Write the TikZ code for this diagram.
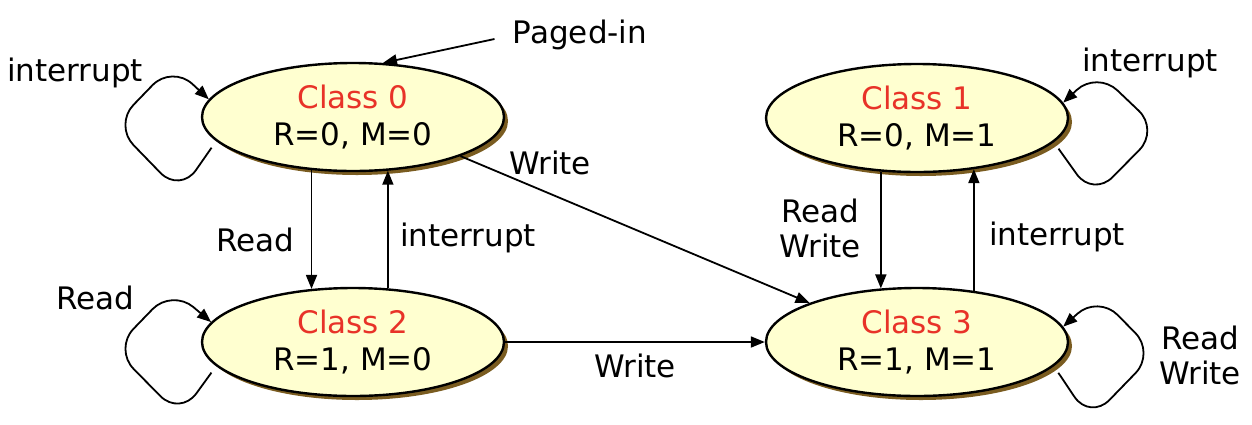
\documentclass[tikz,border=0pt]{standalone}
\usepackage{fontspec}
\setmainfont{DejaVu Sans}
\usetikzlibrary{shapes.geometric,shadows,arrows.meta}

\definecolor{classfill}{RGB}{255,255,208}
\definecolor{classshade}{RGB}{122,92,32}
\definecolor{classred}{RGB}{232,50,40}

\tikzset{
  state/.style={ellipse, draw, line width=1.2pt, fill=classfill,
    minimum width=151pt, minimum height=54pt, inner sep=0pt, align=center,
    drop shadow={shadow xshift=2pt, shadow yshift=-2pt, fill=classshade, opacity=1}},
  trans/.style={-{Triangle[length=7pt,width=5.5pt]}, line width=0.9pt},
  selfloop/.style={trans, rounded corners=14pt, shorten <=4pt},
  lbl/.style={align=center, inner sep=0pt}
}

\begin{document}
\begin{tikzpicture}[x=0.5pt, y=-0.5pt, font=\fontsize{15.5}{17.5}\selectfont]
      \useasboundingbox (0,0) rectangle (1252,424);
      \node[state] (c0) at (353,117) {\textcolor{classred}{Class 0}\\[1pt]R=0, M=0};
      \node[state] (c1) at (917,118) {\textcolor{classred}{Class 1}\\[1pt]R=0, M=1};
      \node[state] (c2) at (353,342) {\textcolor{classred}{Class 2}\\[1pt]R=1, M=0};
      \node[state] (c3) at (917,342) {\textcolor{classred}{Class 3}\\[1pt]R=1, M=1};

      \node[lbl] (pagedin) at (580,35) {Paged-in};
      \draw[trans] ([xshift=-9pt,yshift=-2pt]pagedin.west) -- (c0.61);

      \draw[trans] (c0.232) -- (c2.128);
      \draw[trans] (c2.57) -- (c0.303);
      \draw[trans] (c1.236) -- (c3.124);
      \draw[trans] (c3.42) -- (c1.318);
      \draw[trans] (c0.340) -- (c3.160);
      \draw[trans] (c2.east) -- (c3.west);

      \draw[selfloop] (c0.190) -- (180,193) -- (114,125) -- (172,65) -- (c0.173);
      \draw[selfloop] (c2.190) -- (180,416) -- (114,349) -- (172,289) -- (c2.172);
      \draw[selfloop] (c1.350) -- (1093,197) -- (1159,130) -- (1097,71) -- (c1.6);
      \draw[selfloop] (c3.350) -- (1090,420) -- (1155,353) -- (1098,295) -- (c3.6);

      \node[lbl] (l0) at (75,73) {interrupt};
      \node[lbl] (l1) at (1150,63) {interrupt};
      \node[lbl] (l2) at (95,298) {Read};
      \node[lbl] (l3) at (1200,355) {Read\\Write};
      \node[lbl] (l02) at (255,240) {Read};
      \node[lbl] (l20) at (468,238) {interrupt};
      \node[lbl] (l13) at (820,228) {Read\\Write};
      \node[lbl] (l31) at (1057,237) {interrupt};
      \node[lbl] (l03) at (550,163) {Write};
      \node[lbl] (l23) at (635,366) {Write};
    \end{tikzpicture}
\end{document}
